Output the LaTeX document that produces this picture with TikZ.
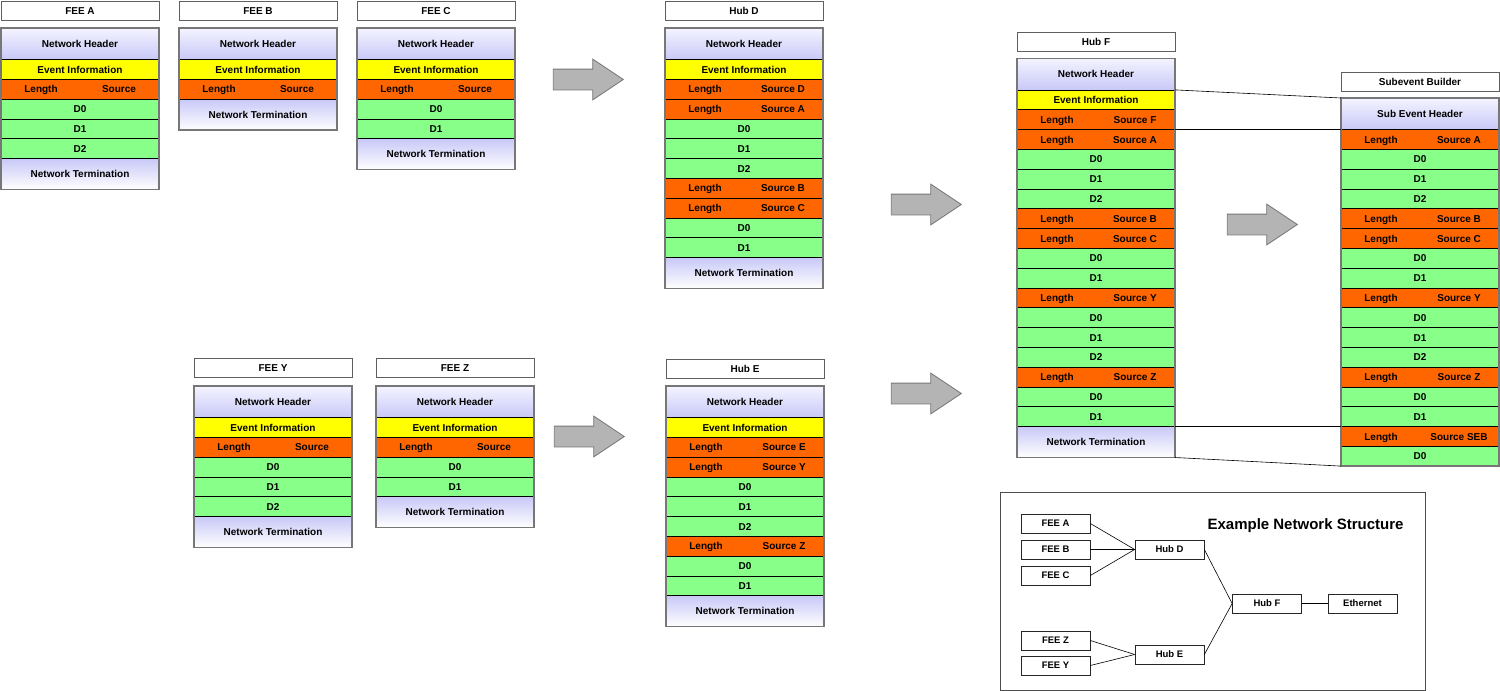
\documentclass[tikz,border=0pt]{standalone}
\usepackage{fontspec}
\setmainfont{Liberation Sans}
\usetikzlibrary{shapes.arrows}
\definecolor{orangeL}{HTML}{FF6600}
\definecolor{vertD}{HTML}{88FF88}
\definecolor{jauneE}{HTML}{FFFF00}
\definecolor{bleuH}{HTML}{C8C8F8}
\definecolor{bleuC}{HTML}{F4F4FF}
\definecolor{grisF}{HTML}{B4B4B4}
\definecolor{grisB}{HTML}{777777}
\tikzstyle{case}=[rectangle,draw=black,line width=0.7pt,
minimum width=158,minimum height=19.8,inner sep=0pt,outer sep=0pt,
text height=7.2pt,text depth=0pt,
text=black,font=\bfseries\fontsize{10}{12}\selectfont]
\tikzstyle{lbl}=[inner sep=0pt,text height=7.2pt,text depth=0pt,
text=black,font=\bfseries\fontsize{10}{12}\selectfont]
\tikzstyle{entete}=[case,minimum height=31.5,top color=bleuC,bottom color=bleuH]
\tikzstyle{fin}=[case,minimum height=31,top color=bleuH,bottom color=white]
\tikzstyle{info}=[case,fill=jauneE]
\tikzstyle{donnee}=[case,fill=vertD]
\tikzstyle{titre}=[case,minimum height=19,draw=grisB!80!black,line width=0.9pt,fill=white]
\tikzset{longueur/.style={case,fill=orangeL,
label={[lbl,xshift=-39pt]center:Length},label={[lbl,xshift=39pt]center:#1}}}
\tikzstyle{cadre}=[draw=grisB,line width=1.5pt]
\tikzstyle{fleche}=[single arrow,draw=grisB,fill=grisF,line width=0.8pt,
minimum height=70,single arrow head extend=10,
single arrow tip angle=67.4,inner xsep=0pt,inner ysep=10pt,anchor=tip]
\tikzstyle{liaison}=[draw=black,line width=0.6pt]
\tikzstyle{petit}=[rectangle,draw=black!85,line width=0.7pt,minimum width=69,
minimum height=19,inner sep=0pt,text height=6.8pt,text depth=0pt,
font=\bfseries\fontsize{9.5}{11}\selectfont]

\begin{document}
\begin{tikzpicture}[x=1pt,y=-1pt]
\useasboundingbox (0,0) rectangle (1500,691);
% FEE A
\node[titre] (TA) at (80,10.5) {FEE A};
\node[entete] (A1) at (80,43.75) {Network Header};
\node[info] (A2) at (80,69.4) {Event Information};
\node[longueur=Source] (A3) at (80,89.2) {};
\node[donnee] (A4) at (80,109) {D0};
\node[donnee] (A5) at (80,128.8) {D1};
\node[donnee] (A6) at (80,148.6) {D2};
\node[fin] (A7) at (80,174) {Network Termination};
\draw[cadre] (A1.north west) rectangle (A7.south east);
% FEE B
\node[titre] (TB) at (258,10.5) {FEE B};
\node[entete] (B1) at (258,43.75) {Network Header};
\node[info] (B2) at (258,69.4) {Event Information};
\node[longueur=Source] (B3) at (258,89.2) {};
\node[fin] (B4) at (258,114.6) {Network Termination};
\draw[cadre] (B1.north west) rectangle (B4.south east);
% FEE C
\node[titre] (TC) at (436,10.5) {FEE C};
\node[entete] (C1) at (436,43.75) {Network Header};
\node[info] (C2) at (436,69.4) {Event Information};
\node[longueur=Source] (C3) at (436,89.2) {};
\node[donnee] (C4) at (436,109) {D0};
\node[donnee] (C5) at (436,128.8) {D1};
\node[fin] (C6) at (436,154.2) {Network Termination};
\draw[cadre] (C1.north west) rectangle (C6.south east);
% Hub D
\node[titre] (TD) at (744,10.5) {Hub D};
\node[entete] (D1) at (744,43.75) {Network Header};
\node[info] (D2) at (744,69.4) {Event Information};
\node[longueur=Source D] (D3) at (744,89.2) {};
\node[longueur=Source A] (D4) at (744,109) {};
\node[donnee] (D5) at (744,128.8) {D0};
\node[donnee] (D6) at (744,148.6) {D1};
\node[donnee] (D7) at (744,168.4) {D2};
\node[longueur=Source B] (D8) at (744,188.2) {};
\node[longueur=Source C] (D9) at (744,208) {};
\node[donnee] (D10) at (744,227.8) {D0};
\node[donnee] (D11) at (744,247.6) {D1};
\node[fin] (D12) at (744,273) {Network Termination};
\draw[cadre] (D1.north west) rectangle (D12.south east);
% FEE Y
\node[titre] (TY) at (273,367.5) {FEE Y};
\node[entete] (Y1) at (273,401.75) {Network Header};
\node[info] (Y2) at (273,427.4) {Event Information};
\node[longueur=Source] (Y3) at (273,447.2) {};
\node[donnee] (Y4) at (273,467) {D0};
\node[donnee] (Y5) at (273,486.8) {D1};
\node[donnee] (Y6) at (273,506.6) {D2};
\node[fin] (Y7) at (273,532) {Network Termination};
\draw[cadre] (Y1.north west) rectangle (Y7.south east);
% FEE Z
\node[titre] (TZ) at (455,367.5) {FEE Z};
\node[entete] (Z1) at (455,401.75) {Network Header};
\node[info] (Z2) at (455,427.4) {Event Information};
\node[longueur=Source] (Z3) at (455,447.2) {};
\node[donnee] (Z4) at (455,467) {D0};
\node[donnee] (Z5) at (455,486.8) {D1};
\node[fin] (Z6) at (455,512.2) {Network Termination};
\draw[cadre] (Z1.north west) rectangle (Z6.south east);
% Hub E
\node[titre] (TE) at (745,368.5) {Hub E};
\node[entete] (E1) at (745,401.75) {Network Header};
\node[info] (E2) at (745,427.4) {Event Information};
\node[longueur=Source E] (E3) at (745,447.2) {};
\node[longueur=Source Y] (E4) at (745,467) {};
\node[donnee] (E5) at (745,486.8) {D0};
\node[donnee] (E6) at (745,506.6) {D1};
\node[donnee] (E7) at (745,526.4) {D2};
\node[longueur=Source Z] (E8) at (745,546.2) {};
\node[donnee] (E9) at (745,566) {D0};
\node[donnee] (E10) at (745,585.8) {D1};
\node[fin] (E11) at (745,611.2) {Network Termination};
\draw[cadre] (E1.north west) rectangle (E11.south east);
% Hub F
\node[titre] (TF) at (1096,41.5) {Hub F};
\node[entete] (F1) at (1096,74.15) {Network Header};
\node[info] (F2) at (1096,99.8) {Event Information};
\node[longueur=Source F] (F3) at (1096,119.6) {};
\node[longueur=Source A] (F4) at (1096,139.4) {};
\node[donnee] (F5) at (1096,159.2) {D0};
\node[donnee] (F6) at (1096,179) {D1};
\node[donnee] (F7) at (1096,198.8) {D2};
\node[longueur=Source B] (F8) at (1096,218.6) {};
\node[longueur=Source C] (F9) at (1096,238.4) {};
\node[donnee] (F10) at (1096,258.2) {D0};
\node[donnee] (F11) at (1096,278) {D1};
\node[longueur=Source Y] (F12) at (1096,297.8) {};
\node[donnee] (F13) at (1096,317.6) {D0};
\node[donnee] (F14) at (1096,337.4) {D1};
\node[donnee] (F15) at (1096,357.2) {D2};
\node[longueur=Source Z] (F16) at (1096,377) {};
\node[donnee] (F17) at (1096,396.8) {D0};
\node[donnee] (F18) at (1096,416.6) {D1};
\node[fin] (F19) at (1096,442) {Network Termination};
\draw[cadre] (F1.north west) rectangle (F19.south east);
% Subevent Builder
\node[titre] (TS) at (1420,81.5) {Subevent Builder};
\node[entete] (S1) at (1420,113.75) {Sub Event Header};
\node[longueur=Source A] (S2) at (1420,139.4) {};
\node[donnee] (S3) at (1420,159.2) {D0};
\node[donnee] (S4) at (1420,179) {D1};
\node[donnee] (S5) at (1420,198.8) {D2};
\node[longueur=Source B] (S6) at (1420,218.6) {};
\node[longueur=Source C] (S7) at (1420,238.4) {};
\node[donnee] (S8) at (1420,258.2) {D0};
\node[donnee] (S9) at (1420,278) {D1};
\node[longueur=Source Y] (S10) at (1420,297.8) {};
\node[donnee] (S11) at (1420,317.6) {D0};
\node[donnee] (S12) at (1420,337.4) {D1};
\node[donnee] (S13) at (1420,357.2) {D2};
\node[longueur=Source Z] (S14) at (1420,377) {};
\node[donnee] (S15) at (1420,396.8) {D0};
\node[donnee] (S16) at (1420,416.6) {D1};
\node[longueur=Source SEB] (S17) at (1420,436.4) {};
\node[donnee] (S18) at (1420,456.2) {D0};
\draw[cadre] (S1.north west) rectangle (S18.south east);
\draw[liaison] (F2.north east)--(S1.north west);
\draw[liaison] (F4.north east)--(S2.north west);
\draw[liaison] (F19.north east)--(S17.north west);
\draw[liaison] (F19.south east)--(S18.south west);
% grosses fleches
\node[fleche] (fl1) at (624,79.5) {};
\node[fleche] (fl2) at (625,436.5) {};
\node[fleche] (fl3) at (962,204.5) {};
\node[fleche] (fl4) at (962,393.5) {};
\node[fleche] (fl5) at (1298,224.5) {};
% structure du reseau
\node[draw=black!70,line width=1pt,minimum width=425,minimum height=198,inner sep=0pt] (res) at (1212.5,591) {};
\node[font=\bfseries\fontsize{15}{18}\selectfont] (titreRes) at (1305.5,526) {Example Network Structure};
\node[petit] (nA) at (1055.5,523.5) {FEE A};
\node[petit] (nB) at (1055.5,549.5) {FEE B};
\node[petit] (nC) at (1055.5,575.5) {FEE C};
\node[petit] (nZ) at (1055.5,640.5) {FEE Z};
\node[petit] (nY) at (1055.5,665.5) {FEE Y};
\node[petit] (nD) at (1169.5,549.5) {Hub D};
\node[petit] (nE) at (1169.5,654.5) {Hub E};
\node[petit] (nF) at (1267,603.5) {Hub F};
\node[petit] (nEth) at (1362.5,603.5) {Ethernet};
\draw[liaison] (nA.east)--(nD.west);
\draw[liaison] (nB.east)--(nD.west);
\draw[liaison] (nC.east)--(nD.west);
\draw[liaison] (nZ.east)--(nE.west);
\draw[liaison] (nY.east)--(nE.west);
\draw[liaison] (nD.east)--(nF.west);
\draw[liaison] (nE.east)--(nF.west);
\draw[liaison] (nF.east)--(nEth.west);
\end{tikzpicture}
\end{document}
